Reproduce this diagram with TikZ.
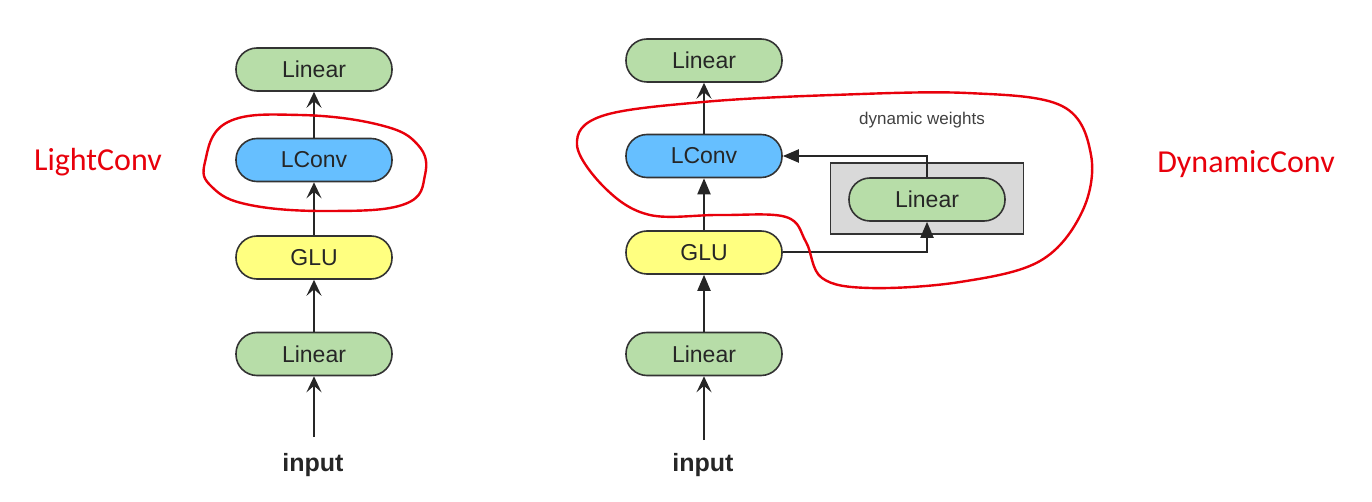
\documentclass[tikz,border=0pt]{standalone}
\usepackage{fontspec}
\setmainfont{Liberation Sans}
\newfontfamily\helvfont{Liberation Sans}
\newfontfamily\calfont{Carlito}
\usetikzlibrary{arrows.meta}
\definecolor{lingreen}{HTML}{B7DDA8}
\definecolor{convblue}{HTML}{66BFFF}
\definecolor{gluyellow}{HTML}{FFFF80}
\definecolor{boxgray}{HTML}{D9D9D9}
\definecolor{edgegray}{HTML}{333333}
\definecolor{redline}{HTML}{E8000B}
\tikzset{
  blk/.style={draw=edgegray, line width=1.6pt, minimum width=156pt, minimum height=43pt,
    rounded corners=21pt, inner sep=0pt, font=\helvfont\fontsize{23}{26}\selectfont, text=black!85},
  linblk/.style={blk, fill=lingreen},
  convblk/.style={blk, fill=convblue},
  glublk/.style={blk, fill=gluyellow},
  barb/.style={-{Stealth[length=16pt,width=15pt,inset=6.5pt]}, line width=2pt, black!85},
  tri/.style={-{Triangle[length=16pt,width=13pt]}, line width=2pt, black!85},
  redcurve/.style={draw=redline, line width=2.4pt},
  lbl/.style={font=\calfont\fontsize{32}{36}\selectfont, text=redline},
  inlbl/.style={font=\helvfont\bfseries\fontsize{25}{28}\selectfont, text=black!85}
}
\begin{document}
\begin{tikzpicture}[x=1pt,y=-1pt]
\useasboundingbox (0,0) rectangle (1372,502);
% left column
\node[linblk]  (ltop)  at (314,69.5) {Linear};
\node[convblk] (lconv) at (314,160) {LConv};
\node[glublk]  (lglu)  at (314,257.5) {GLU};
\node[linblk]  (lbot)  at (314,354) {Linear};
\node[inlbl]   (linput) at (313,465) {input};
\coordinate (lstart) at (314,437);
\draw[barb] (lstart) -- (lbot.south);
\draw[barb] (lbot.north) -- (lglu.south);
\draw[barb] (lglu.north) -- (lconv.south);
\draw[barb] (lconv.north) -- (ltop.south);
% right column
\node[linblk]  (rtop)  at (704,60.5) {Linear};
\node[convblk] (rconv) at (704,156) {LConv};
\node[glublk]  (rglu)  at (704,252.5) {GLU};
\node[linblk]  (rbot)  at (704,354) {Linear};
\node[inlbl]   (rinput) at (703,465) {input};
\coordinate (rstart) at (704,440);
% gray box with dynamic linear
\node[draw=edgegray, fill=boxgray, line width=1.6pt, minimum width=193pt, minimum height=71pt, inner sep=0pt] (gbox) at (927,198.5) {};
\node[linblk] (dlin) at (927,199.5) {Linear};
\node[font=\helvfont\fontsize{17}{20}\selectfont, text=black!75] (dw) at (922,120) {dynamic weights};
\draw[barb] (rstart) -- (rbot.south);
\draw[tri] (rbot.north) -- (rglu.south);
\draw[tri] (rglu.north) -- (rconv.south);
\draw[barb] (rconv.north) -- (rtop.south);
\draw[tri] (dlin.north) |- (rconv.east);
\draw[tri] (rglu.east) -| (dlin.south);
% red curves
\draw[redcurve] plot[smooth cycle, tension=0.7] coordinates {
  (205,162) (228,122) (300,115) (380,125) (418,145) (425,175) (405,204)
  (330,211) (250,205) (212,187)};
\draw[redcurve] plot[smooth cycle, tension=0.6] coordinates {
  (577,145) (602,116) (703,102) (833,95) (967,93) (1062,106) (1091,155)
  (1082,212) (1040,261) (960,282) (870,288) (822,278) (806,242) (786,217)
  (720,215) (650,215) (606,189)};
\node[lbl] (lc) at (98,162) {LightConv};
\node[lbl] (dc) at (1246,164) {DynamicConv};
\end{tikzpicture}
\end{document}
